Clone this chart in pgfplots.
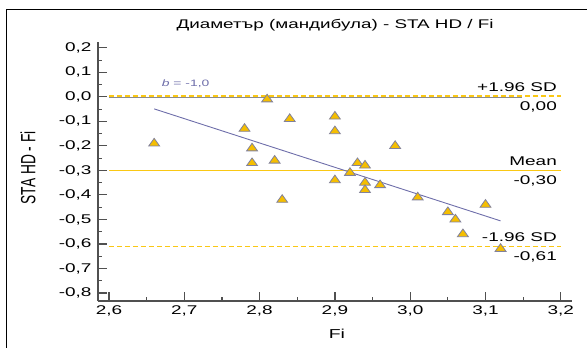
\documentclass[border=0pt]{standalone}
\usepackage{pgfplots}
\pgfplotsset{compat=1.18}
\usepackage{fontspec}
\setmainfont{Liberation Sans}[FakeStretch=1.5]
\newfontfamily\ylfont{Liberation Sans}
\definecolor{ylw}{RGB}{250,200,20}
\definecolor{trifill}{RGB}{245,190,0}
\definecolor{triedge}{RGB}{130,130,155}
\definecolor{regc}{RGB}{110,110,170}
\definecolor{axc}{RGB}{80,80,80}
\definecolor{zeroc}{RGB}{140,140,140}
\begin{document}
\begin{tikzpicture}
\useasboundingbox (-98bp,-47bp) rectangle (489bp,301bp);
\draw[black,line width=1bp] (-91bp,-47bp) -- (-91bp,291bp) -- (489bp,291bp);
\begin{axis}[
  scale only axis, width=474.1bp, height=259bp,
  at={(0,0)}, anchor=south west,
  xmin=2.5854, xmax=3.215, ymin=-0.833, ymax=0.224,
  axis lines=left, axis line style={-, axc, line width=1.6bp},
  tick style={axc, line width=1.2bp},
  tick align=inside,
  major tick length=9bp, minor tick length=4.5bp,
  xtick={2.6,2.7,2.8,2.9,3.0,3.1,3.2},
  ytick={-0.8,-0.7,-0.6,-0.5,-0.4,-0.3,-0.2,-0.1,0,0.1,0.2},
  minor x tick num=1, minor y tick num=1,
  tick label style={font=\fontsize{12.7}{14}\selectfont},
  /pgf/number format/.cd, fixed, fixed zerofill, precision=1, use comma, assume math mode=true,
  /pgfplots/.cd,
  yticklabel style={xshift=-3bp},
  xticklabel style={yshift=-1bp},
  title={Диаметър (мандибула) - STA HD / Fi},
  title style={font=\fontsize{12.6}{14}\selectfont, anchor=base, at={(axis description cs:0.5,1)}, yshift=8bp},
  xlabel={Fi},
  xlabel style={font=\fontsize{13}{14}\selectfont, at={(axis description cs:0.504,-0.127)}, anchor=center},
  ylabel={\ylfont STA HD - Fi},
  ylabel style={font=\fontsize{13.8}{15}\selectfont, at={(axis description cs:-0.1477,0.514)}, anchor=center, rotate=0, yscale=1.5},
  clip=false,
]
% +1.96 SD (dashed) and zero line
\addplot[ylw, line width=1.3bp, dash pattern=on 5bp off 3bp] coordinates {(2.6,0.003) (3.2,0.003)};
\addplot[zeroc, line width=1.2bp] coordinates {(2.6,-0.003) (3.148,-0.003)};
% Mean
\addplot[ylw, line width=1.3bp] coordinates {(2.6,-0.30) (3.2,-0.30)};
% -1.96 SD
\addplot[ylw, line width=1.3bp, dash pattern=on 5bp off 3bp] coordinates {(2.6,-0.61) (3.2,-0.61)};
% regression line
\addplot[regc, line width=0.9bp] coordinates {(2.66,-0.049) (3.12,-0.506)};
% data
\addplot[only marks, mark=triangle*, mark size=5.1bp,
  mark options={fill=trifill, draw=triedge, line width=0.8bp, xscale=1.23}]
  coordinates {
  (2.66,-0.19) (2.78,-0.13) (2.79,-0.21) (2.79,-0.27) (2.81,-0.01) (2.82,-0.26)
  (2.83,-0.42) (2.84,-0.09) (2.90,-0.08) (2.90,-0.14) (2.90,-0.34) (2.92,-0.31)
  (2.93,-0.27) (2.94,-0.28) (2.94,-0.35) (2.94,-0.38) (2.96,-0.36) (2.98,-0.20)
  (3.01,-0.41) (3.05,-0.47) (3.06,-0.50) (3.07,-0.56) (3.10,-0.44) (3.12,-0.62)
  };
\node[anchor=base west, text=regc, font=\fontsize{9.3}{11}\selectfont, inner sep=0] at (axis cs:2.670,0.042) {\textit{b} = -1,0};
\node[anchor=base east, inner sep=0, font=\fontsize{12.7}{14}\selectfont] at (axis cs:3.195,0) [yshift=5bp] {+1.96 SD};
\node[anchor=north east, inner sep=0, font=\fontsize{12.7}{14}\selectfont] at (axis cs:3.195,0) [yshift=-5bp] {0,00};
\node[anchor=base east, inner sep=0, font=\fontsize{12.7}{14}\selectfont] at (axis cs:3.195,-0.30) [yshift=5bp] {Mean};
\node[anchor=north east, inner sep=0, font=\fontsize{12.7}{14}\selectfont] at (axis cs:3.195,-0.30) [yshift=-5bp] {-0,30};
\node[anchor=base east, inner sep=0, font=\fontsize{12.7}{14}\selectfont] at (axis cs:3.195,-0.61) [yshift=5bp] {-1.96 SD};
\node[anchor=north east, inner sep=0, font=\fontsize{12.7}{14}\selectfont] at (axis cs:3.195,-0.61) [yshift=-5bp] {-0,61};
\end{axis}
\end{tikzpicture}
\end{document}
